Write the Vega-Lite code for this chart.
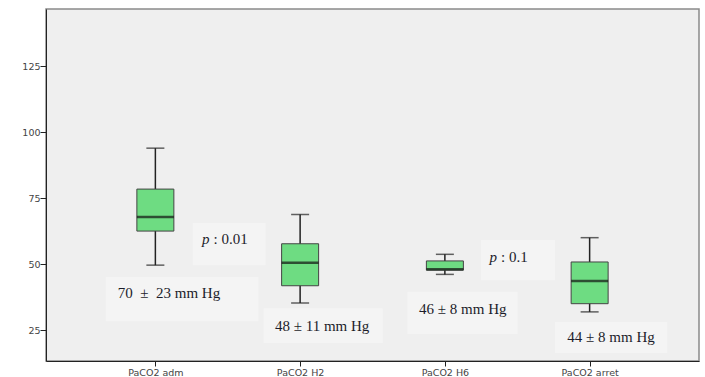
{
  "$schema": "https://vega.github.io/schema/vega-lite/v6.json",
  "width": 653,
  "height": 352,
  "autosize": {"type": "none"},
  "padding": {"left": 46, "top": 9, "right": 6, "bottom": 16},
  "background": "#ffffff",
  "config": {
    "view": {"fill": "#efefef", "stroke": "#8a8a8a", "strokeWidth": 1.5},
    "axis": {"grid": false, "domainColor": "#222", "tickColor": "#222", "labelColor": "#444", "labelFont": "DejaVu Sans", "labelFontSize": 9.5, "tickSize": 6, "title": null}
  },
  "datasets": {
    "boxes": [
      {"pos": 1, "label": "PaCO2 adm", "low": 49.6, "q1": 62.5, "median": 67.8, "q3": 78.4, "high": 93.9},
      {"pos": 2, "label": "PaCO2 H2", "low": 35.3, "q1": 41.8, "median": 50.5, "q3": 57.7, "high": 68.8},
      {"pos": 3, "label": "PaCO2 H6", "low": 46.1, "q1": 47.7, "median": 48.0, "q3": 51.2, "high": 53.7},
      {"pos": 4, "label": "PaCO2 arret", "low": 31.9, "q1": 35.0, "median": 43.6, "q3": 50.8, "high": 60.0}
    ],
    "panels": [
      {"x1": 0.658, "x2": 1.712, "y1": 28.4, "y2": 45.1},
      {"x1": 1.259, "x2": 1.762, "y1": 49.6, "y2": 65.6},
      {"x1": 1.748, "x2": 2.571, "y1": 20.1, "y2": 33.3},
      {"x1": 2.742, "x2": 3.503, "y1": 23.5, "y2": 39.5},
      {"x1": 3.249, "x2": 3.761, "y1": 43.9, "y2": 59.1},
      {"x1": 3.761, "x2": 4.535, "y1": 16.3, "y2": 28.1}
    ],
    "notes": [
      {"x": 1.094, "y": 38.9, "text": "70\u00a0\u00a0±\u00a0\u00a023 mm Hg"},
      {"x": 2.152, "y": 26.6, "text": "48 ± 11 mm Hg"},
      {"x": 3.124, "y": 33.0, "text": "46 ± 8 mm Hg"},
      {"x": 4.148, "y": 22.2, "text": "44 ± 8 mm Hg"}
    ],
    "pvals": [
      {"x": 1.381, "y": 59.5, "text": ": 0.01"},
      {"x": 3.367, "y": 52.8, "text": ": 0.1"}
    ]
  },
  "layer": [
    {
      "data": {"name": "panels"},
      "mark": {"type": "rect", "fill": "#f4f4f4"},
      "encoding": {
        "x": {"field": "x1", "type": "quantitative", "scale": {"domain": [0.279, 4.721], "nice": false, "zero": false},
          "axis": {"values": [1, 2, 3, 4], "labelExpr": "['PaCO2 adm','PaCO2 H2','PaCO2 H6','PaCO2 arret'][datum.value - 1]", "labelPadding": 1, "tickSize": 5}},
        "x2": {"field": "x2"},
        "y": {"field": "y1", "type": "quantitative", "scale": {"domain": [13.3, 146.6], "nice": false, "zero": false},
          "axis": {"values": [25, 50, 75, 100, 125], "labelPadding": 0}},
        "y2": {"field": "y2"}
      }
    },
    {
      "data": {"name": "notes"},
      "mark": {"type": "text", "font": "Liberation Serif", "fontSize": 15, "color": "#1c1c2a", "align": "center", "baseline": "middle"},
      "encoding": {
        "x": {"field": "x", "type": "quantitative"},
        "y": {"field": "y", "type": "quantitative"},
        "text": {"field": "text"}
      }
    },
    {
      "data": {"name": "pvals"},
      "mark": {"type": "text", "font": "Liberation Serif", "fontSize": 15, "fontStyle": "italic", "color": "#1c1c2a", "align": "right", "baseline": "middle", "dx": -1},
      "encoding": {
        "x": {"field": "x", "type": "quantitative"},
        "y": {"field": "y", "type": "quantitative"},
        "text": {"value": "p"}
      }
    },
    {
      "data": {"name": "pvals"},
      "mark": {"type": "text", "font": "Liberation Serif", "fontSize": 15, "color": "#1c1c2a", "align": "left", "baseline": "middle", "dx": 3},
      "encoding": {
        "x": {"field": "x", "type": "quantitative"},
        "y": {"field": "y", "type": "quantitative"},
        "text": {"field": "text"}
      }
    },
    {
      "data": {"name": "boxes"},
      "mark": {"type": "rule", "color": "#222", "strokeWidth": 1.5},
      "encoding": {
        "x": {"field": "pos", "type": "quantitative"},
        "y": {"field": "low", "type": "quantitative"},
        "y2": {"field": "high"}
      }
    },
    {
      "data": {"name": "boxes"},
      "mark": {"type": "tick", "orient": "horizontal", "color": "#222", "size": 18, "thickness": 1.5},
      "encoding": {
        "x": {"field": "pos", "type": "quantitative"},
        "y": {"field": "low", "type": "quantitative"}
      }
    },
    {
      "data": {"name": "boxes"},
      "mark": {"type": "tick", "orient": "horizontal", "color": "#222", "size": 18, "thickness": 1.5},
      "encoding": {
        "x": {"field": "pos", "type": "quantitative"},
        "y": {"field": "high", "type": "quantitative"}
      }
    },
    {
      "data": {"name": "boxes"},
      "mark": {"type": "bar", "size": 37, "fill": "#6edc82", "stroke": "#444", "strokeWidth": 1},
      "encoding": {
        "x": {"field": "pos", "type": "quantitative"},
        "y": {"field": "q1", "type": "quantitative"},
        "y2": {"field": "q3"}
      }
    },
    {
      "data": {"name": "boxes"},
      "mark": {"type": "tick", "orient": "horizontal", "color": "#111", "size": 37, "thickness": 2.5},
      "encoding": {
        "x": {"field": "pos", "type": "quantitative"},
        "y": {"field": "median", "type": "quantitative"}
      }
    }
  ]
}
